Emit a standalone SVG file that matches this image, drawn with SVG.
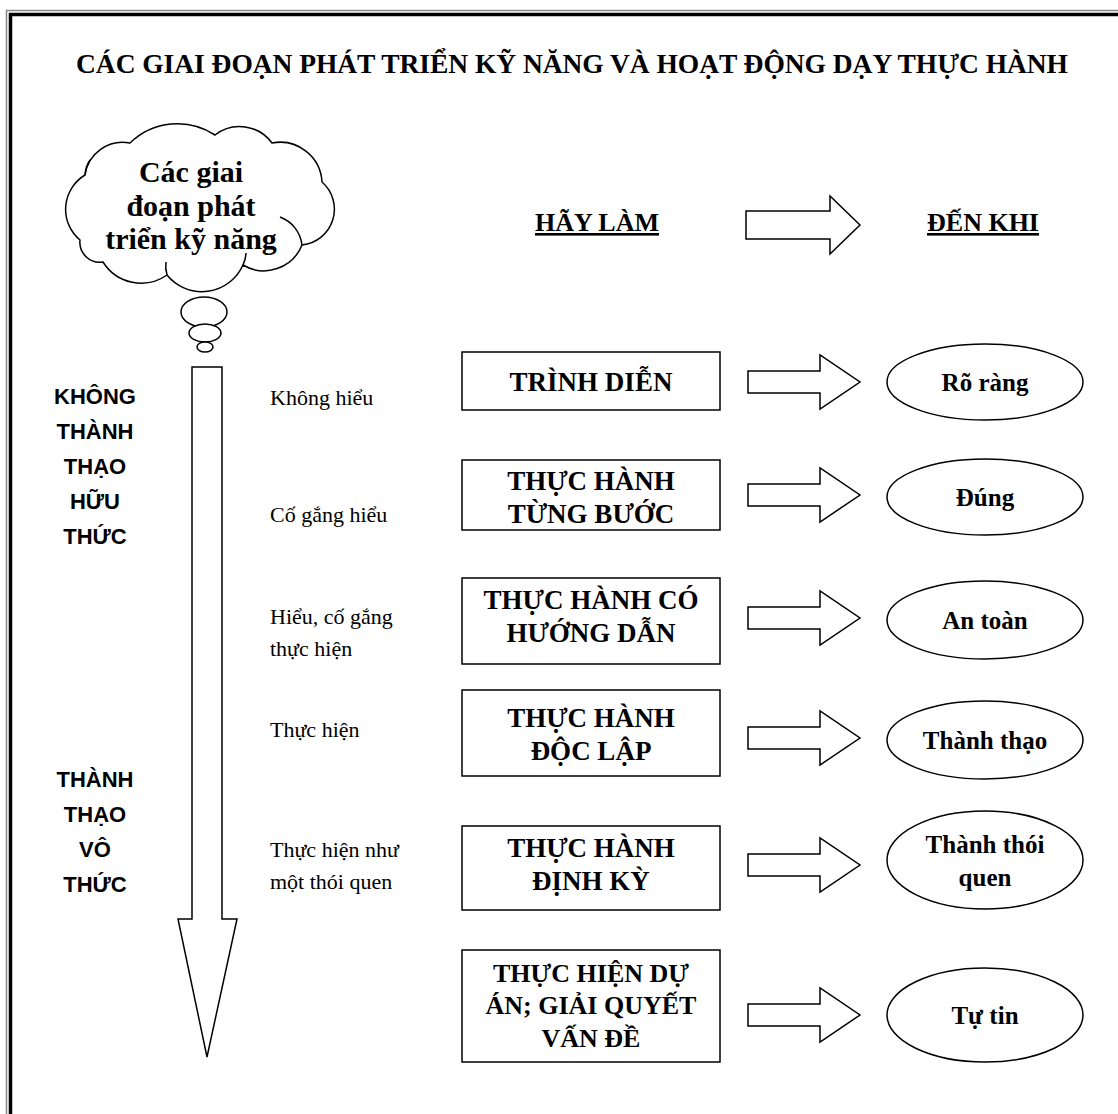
<svg xmlns="http://www.w3.org/2000/svg" width="1118" height="1114" viewBox="0 0 1118 1114">
<style>
.frame-o{fill:none;stroke:#888;stroke-width:1.5}
.frame-i{fill:none;stroke:#000;stroke-width:3.5}
.ln{fill:#fff;stroke:#000;stroke-width:1.5}
.arc{fill:none;stroke:#000;stroke-width:1.5}
.title{font-family:"Liberation Serif",serif;font-weight:bold;font-size:27.5px;text-anchor:middle}
.bt{font-family:"Liberation Serif",serif;font-weight:bold;font-size:27px;text-anchor:middle}
.bt6{font-family:"Liberation Serif",serif;font-weight:bold;font-size:26px;text-anchor:middle}
.et{font-family:"Liberation Serif",serif;font-weight:bold;font-size:25px;text-anchor:middle}
.ct{font-family:"Liberation Serif",serif;font-weight:bold;font-size:30px;text-anchor:middle}
.st{font-family:"Liberation Serif",serif;font-size:22px}
.lt{font-family:"Liberation Sans",Arial,sans-serif;font-weight:bold;font-size:22px;text-anchor:middle}
.hd{font-family:"Liberation Serif",serif;font-weight:bold;font-size:26px;text-anchor:middle;text-decoration:underline}
</style>
<rect width="1118" height="1114" fill="#fff"/>
<rect class="frame-o" x="6.5" y="10.5" width="1200" height="1200"/>
<rect class="frame-i" x="10.5" y="14.5" width="1200" height="1200"/>
<text class="title" x="572" y="73" textLength="992">CÁC GIAI ĐOẠN PHÁT TRIỂN KỸ NĂNG VÀ HOẠT ĐỘNG DẠY THỰC HÀNH</text>

<g id="cloud">
<path class="ln" d="M80,240 A40,40 0 0 1 85,175 A38,38 0 0 1 130,143 A68,68 0 0 1 215,135 A40,40 0 0 1 272,143 A42,42 0 0 1 322,182 A36,36 0 0 1 302,245 A41,41 0 0 1 243,265 A45,45 0 0 1 167,275 A45,45 0 0 1 103,262 A20,20 0 0 1 80,240 Z"/>
<path class="arc" d="M302,245 A34,34 0 0 0 280,217"/>
<path class="arc" d="M85,175 A30,30 0 0 1 90,160"/>
<path class="arc" d="M167,275 A30,30 0 0 1 166,262"/>
<path class="arc" d="M243,265 A30,30 0 0 0 246,253"/>
<ellipse class="ln" cx="204" cy="312" rx="23" ry="15"/>
<ellipse class="ln" cx="205" cy="333" rx="16" ry="9"/>
<ellipse class="ln" cx="205" cy="347" rx="8" ry="5"/>
<text class="ct" x="191" y="182">Các giai</text>
<text class="ct" x="191" y="216">đoạn phát</text>
<text class="ct" x="191" y="249">triển kỹ năng</text>
</g>

<g id="headers">
<text class="hd" x="597" y="231">HÃY LÀM</text>
<text class="hd" x="983" y="231">ĐẾN KHI</text>
</g>

<g id="left-labels">
<text class="lt" x="95" y="404">KHÔNG</text>
<text class="lt" x="95" y="439">THÀNH</text>
<text class="lt" x="95" y="474">THẠO</text>
<text class="lt" x="95" y="509">HỮU</text>
<text class="lt" x="95" y="544">THỨC</text>
<text class="lt" x="95" y="787">THÀNH</text>
<text class="lt" x="95" y="822">THẠO</text>
<text class="lt" x="95" y="857">VÔ</text>
<text class="lt" x="95" y="892">THỨC</text>
</g>

<g id="stage-labels">
<text class="st" x="270" y="405">Không hiểu</text>
<text class="st" x="270" y="522">Cố gắng hiểu</text>
<text class="st" x="270" y="624">Hiểu, cố gắng</text>
<text class="st" x="270" y="656">thực hiện</text>
<text class="st" x="270" y="737">Thực hiện</text>
<text class="st" x="270" y="857">Thực hiện như</text>
<text class="st" x="270" y="889">một thói quen</text>
</g>

<g id="box1"><rect class="ln" x="462" y="352" width="258" height="58"/><text class="bt" x="591" y="391">TRÌNH DIỄN</text></g>
<g id="box2"><rect class="ln" x="462" y="460" width="258" height="70"/><text class="bt" x="591" y="490">THỰC HÀNH</text><text class="bt" x="591" y="523">TỪNG BƯỚC</text></g>
<g id="box3"><rect class="ln" x="462" y="578" width="258" height="86"/><text class="bt" x="591" y="609">THỰC HÀNH CÓ</text><text class="bt" x="591" y="642">HƯỚNG DẪN</text></g>
<g id="box4"><rect class="ln" x="462" y="690" width="258" height="86"/><text class="bt" x="591" y="727">THỰC HÀNH</text><text class="bt" x="591" y="760">ĐỘC LẬP</text></g>
<g id="box5"><rect class="ln" x="462" y="826" width="258" height="84"/><text class="bt" x="591" y="857">THỰC HÀNH</text><text class="bt" x="591" y="890">ĐỊNH KỲ</text></g>
<g id="box6"><rect class="ln" x="462" y="950" width="258" height="112"/><text class="bt6" x="591" y="982">THỰC HIỆN DỰ</text><text class="bt6" x="591" y="1014">ÁN; GIẢI QUYẾT</text><text class="bt6" x="591" y="1047">VẤN ĐỀ</text></g>

<g id="ell1"><ellipse class="ln" cx="985" cy="382" rx="98" ry="38"/><text class="et" x="985" y="391">Rõ ràng</text></g>
<g id="ell2"><ellipse class="ln" cx="985" cy="497" rx="98" ry="38"/><text class="et" x="985" y="506">Đúng</text></g>
<g id="ell3"><ellipse class="ln" cx="985" cy="620" rx="98" ry="39"/><text class="et" x="985" y="629">An toàn</text></g>
<g id="ell4"><ellipse class="ln" cx="985" cy="740" rx="98" ry="39"/><text class="et" x="985" y="749">Thành thạo</text></g>
<g id="ell5"><ellipse class="ln" cx="985" cy="860" rx="98" ry="49"/><text class="et" x="985" y="853">Thành thói</text><text class="et" x="985" y="886">quen</text></g>
<g id="ell6"><ellipse class="ln" cx="985" cy="1015" rx="98" ry="47"/><text class="et" x="985" y="1024">Tự tin</text></g>

<g id="connectors">
<path class="ln" d="M192,367 H222 V919 H237 L207,1057 L178,919 H192 Z"/>
<path class="ln" d="M746,211 H830 V196 L860,225 L830,254 V239 H746 Z"/>
<path class="ln" d="M748,371 H820 V355 L860,382 L820,409 V393 H748 Z"/>
<path class="ln" d="M748,484 H820 V468 L860,495 L820,522 V506 H748 Z"/>
<path class="ln" d="M748,607 H820 V591 L860,618 L820,645 V629 H748 Z"/>
<path class="ln" d="M748,727 H820 V711 L860,738 L820,765 V749 H748 Z"/>
<path class="ln" d="M748,854 H820 V838 L860,865 L820,892 V876 H748 Z"/>
<path class="ln" d="M748,1004 H820 V988 L860,1015 L820,1042 V1026 H748 Z"/>
</g>
</svg>
